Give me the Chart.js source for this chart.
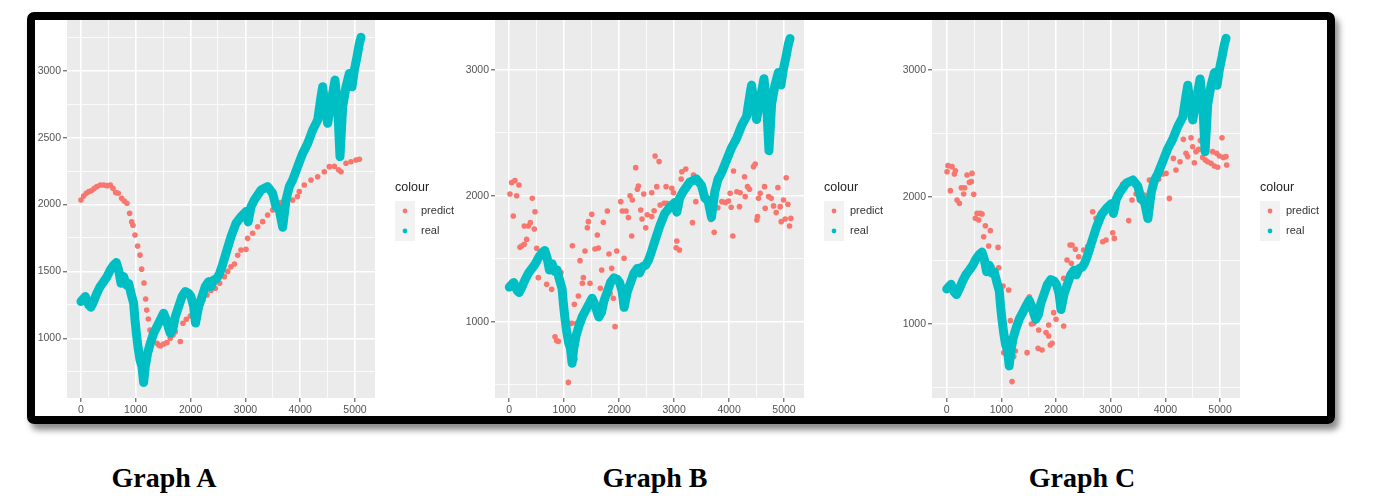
<!DOCTYPE html>
<html>
<head>
<meta charset="utf-8">
<script src="https://cdn.jsdelivr.net/npm/chart.js@4.4.0/dist/chart.umd.min.js"></script>
<style>
  body { margin: 0; background: #fff; width: 1375px; height: 499px; overflow: hidden; position: relative; }
  canvas { position: absolute; top: 10px; }
  #frame { position: absolute; left: 27px; top: 12px; width: 1292px; height: 396px; border: 8px solid #000;
           border-radius: 7px; box-shadow: 4px 6px 6px rgba(0,0,0,0.45); pointer-events: none; }
  .cap { position: absolute; top: 462px; width: 200px; line-height: 28px; text-align: center;
         font: bold 28px "Liberation Serif", "Times New Roman", serif; color: #000; }
</style>
</head>
<body>
<canvas id="gA" width="424" height="410" style="left:36px"></canvas>
<canvas id="gB" width="430" height="410" style="left:460px"></canvas>
<canvas id="gC" width="437" height="410" style="left:890px"></canvas>
<div id="frame"></div>
<div class="cap" style="left:64px">Graph A</div>
<div class="cap" style="left:555px">Graph B</div>
<div class="cap" style="left:982px">Graph C</div>
<script>
// real index, same in all three graphs
var realX = [0,80,140,180,230,290,350,415,475,535,596,645,687,730,779,827,870,912,961,985,
  1010,1040,1077,1113,1143,1174,1216,1265,1326,1387,1448,1508,1557,1600,1630,1679,1721,1782,1843,1904,
  1965,2007,2056,2090,2147,2208,2269,2330,2372,2421,2482,2530,2573,2646,2738,2829,2920,3011,3050,3102,
  3163,3285,3406,3497,3558,3619,3680,3741,3801,3862,3954,4045,4137,4228,4319,4380,4410,4453,4501,4562,
  4635,4684,4726,4775,4836,4897,4945,4988,5037,5080,5110];
var realY = [1275,1312,1250,1232,1275,1337,1387,1424,1461,1511,1548,1566,1511,1411,1461,1399,1411,1337,1262,1140,
  1040,937,838,790,670,789,889,963,1038,1088,1138,1187,1138,1075,1038,1075,1162,1237,1312,1349,
  1337,1312,1237,1114,1237,1312,1387,1424,1387,1436,1449,1486,1536,1636,1760,1860,1909,1947,1870,1984,
  2034,2109,2134,2084,1984,1959,1830,2034,2134,2183,2283,2382,2457,2557,2631,2806,2880,2731,2607,2756,
  2930,2731,2358,2731,2880,2980,2880,3005,3105,3204,3250];

var predictA = [[0,2034],[49,2064],[97,2084],[146,2096],[195,2104],[243,2121],[292,2134],[353,2146],[414,2146],[474,2141],
  [535,2146],[584,2121],[633,2089],[681,2084],[742,2046],[791,2026],[839,2009],[888,1934],[925,1870],[949,1845],
  [985,1772],[1034,1690],[1077,1622],[1107,1517],[1150,1413],[1180,1293],[1199,1211],[1229,1144],[1259,1062],[1290,1038],
  [1387,963],[1420,950],[1448,943],[1508,958],[1569,968],[1630,1000],[1679,1025],[1720,1050],[1813,976],[1861,1113],
  [1922,1142],[1995,1167],[2068,1187],[2147,1237],[2226,1287],[2299,1324],[2372,1357],[2451,1374],[2530,1411],[2616,1461],
  [2677,1500],[2737,1535],[2800,1555],[2860,1620],[2920,1660],[3011,1665],[3041,1747],[3132,1785],[3224,1834],[3315,1872],
  [3406,1922],[3497,1959],[3558,2009],[3650,2015],[3741,2025],[3862,2034],[3950,2060],[3984,2096],[4075,2146],[4197,2183],
  [4319,2208],[4440,2245],[4532,2283],[4623,2285],[4700,2260],[4745,2245],[4836,2308],[4927,2320],[5019,2333],[5080,2338]];

var predictB = [[12,2015],[43,2105],[103,2121],[176,2086],[134,2001],[73,1840],[419,1980],[468,1874],[273,1760],[346,1760],
  [383,1787],[455,1737],[316,1654],[225,1602],[194,1591],[273,1615],[498,1583],[528,1350],[680,1297],[771,1257],
  [941,1390],[832,881],[862,849],[893,844],[1135,987],[1226,987],[1196,701],[1075,518],[1148,1604],[1287,1485],
  [1378,1562],[1330,1305],[1469,1305],[1348,1350],[1257,1204],[1184,1138],[1500,1853],[1439,1795],[1421,1747],[1560,1578],
  [1621,1586],[1603,1689],[1712,1790],[1785,1880],[1815,1538],[1682,1411],[1864,1424],[1657,1265],[1955,1562],[1925,961],
  [1894,1186],[1834,1225],[2089,1504],[2028,1954],[2058,1880],[2125,1880],[2168,1827],[2198,2001],[2240,1967],[2301,2224],
  [2350,2078],[2332,2052],[2447,2015],[2392,1888],[2416,1816],[2483,1747],[2228,1681],[2510,1850],
  [2654,2317],[2727,2272],[2593,2025],[2684,2073],[2593,1835],[2636,1882],[2745,1927],[2818,1941],[2867,1941],[2958,2060],
  [2988,2025],[2854,2073],[3140,2192],[3213,2213],[3128,2134],[3352,2166],[3170,2020],[3395,1954],[3334,1787],[3049,1641],
  [3037,1588],[3097,1570],[3231,2073],[3668,1813],[3729,1710],[3796,1906],[3869,1954],[3930,1948],[3990,1959],[4020,2020],
  [4081,2197],[4069,1681],[4039,1909],[4142,2033],[4202,2025],[4190,1914],[4282,2152],[4336,2073],[4372,2052],[4294,1994],
  [4445,2232],[4476,2253],[4518,1835],[4506,1808],[4567,2020],[4536,1980],[4646,2073],[4658,1901],[4719,1994],[4767,1980],
  [4810,1920],[4858,1867],[4889,2065],[4931,1914],[4949,1795],[4992,1967],[5022,1816],[5040,2144],[5071,1933],[5101,1760],
  [5125,1821]];

var predictC = [[24,2247],[98,2239],[6,2199],[140,2181],[159,2207],[67,2050],[189,1976],[232,1950],[268,2073],[329,2073],
  [311,2024],[372,2173],[463,2186],[415,2115],[451,2121],[494,2021],[555,1871],[616,1871],[646,1866],[524,1832],
  [585,1819],[707,1774],[799,1735],[677,1687],[768,1614],[939,1603],[829,1451],[951,1443],[1030,1299],[1134,1267],
  [1165,1026],[1256,787],[1226,743],[1043,774],[1195,546],[1470,774],[1512,1215],[1549,1000],[1591,1005],[1671,808],
  [1744,795],[1683,953],[1817,932],[1866,905],[1896,834],[1927,848],[1866,992],[1957,1089],[2000,1037],[2140,984],
  [2140,1359],[2293,1622],[2354,1588],[2201,1504],[2280,1478],[2415,1530],[2506,1583],[2256,1622],
  [2578,1609],[2639,1583],[2670,1884],[2731,1832],[2853,1648],[2914,1661],[3066,1674],[3036,1719],[3109,2024],[3219,2100],
  [3329,1814],[3390,1976],[3463,2024],[3524,1976],[3615,2016],[3707,2134],[3737,1919],[3877,2139],[3951,2181],[4073,1989],
  [4146,2304],[4194,2213],[4268,2278],[4329,2454],[4377,2344],[4408,2318],[4469,2467],[4499,2396],[4530,2270],[4560,2357],
  [4609,2375],[4640,2444],[4682,2312],[4713,2357],[4731,2291],[4774,2278],[4835,2265],[4896,2244],[4957,2234],[4865,2357],
  [4939,2344],[4987,2323],[5036,2467],[5060,2312],[5109,2318],[5121,2252],[4012,2186]];

var xGrid = [0,500,1000,1500,2000,2500,3000,3500,4000,4500,5000];
var xLabels = [0,1000,2000,3000,4000,5000];
var yGridA = [750,1000,1250,1500,1750,2000,2250,2500,2750,3000,3250];
var yLabelsA = [1000,1500,2000,2500,3000];
var yGridBC = [500,1000,1500,2000,2500,3000];
var yLabelsBC = [1000,2000,3000];

var FONT = '"Liberation Sans", Arial, sans-serif';
var PRED_COL = '#F8766D', REAL_COL = '#00BFC4';

function pts(xs, ys) {
  return xs.map(function (x, i) { return { x: x, y: ys[i] }; });
}
function pairs(list) {
  return list.map(function (p) { return { x: p[0], y: p[1] }; });
}

// grey panel like ggplot
var panelBg = {
  id: 'panelBg',
  beforeDraw: function (chart) {
    var a = chart.chartArea, ctx = chart.ctx;
    ctx.save();
    ctx.fillStyle = '#EBEBEB';
    ctx.fillRect(a.left, a.top, a.right - a.left, a.bottom - a.top);
    ctx.restore();
  }
};

// ggplot style legend to the right of the panel
var ggLegend = {
  id: 'ggLegend',
  afterDraw: function (chart) {
    var a = chart.chartArea, ctx = chart.ctx;
    var x0 = a.right + 20;
    var mid = (a.top + a.bottom) / 2;
    ctx.save();
    ctx.textBaseline = 'middle';
    ctx.fillStyle = '#222';
    ctx.font = '12.5px ' + FONT;
    ctx.fillText('colour', x0, mid - 21);
    chart.data.datasets.forEach(function (ds, i) {
      var cy = mid + 2 + i * 20;
      ctx.fillStyle = '#F2F2F2';
      ctx.fillRect(x0, cy - 10, 20, 20);
      ctx.fillStyle = ds.backgroundColor;
      ctx.beginPath();
      ctx.arc(x0 + 10, cy, 2.4, 0, Math.PI * 2);
      ctx.fill();
      ctx.fillStyle = '#333';
      ctx.font = '11px ' + FONT;
      ctx.fillText(ds.label, x0 + 26, cy);
    });
    ctx.restore();
  }
};

function axis(grid, labels, min, max, fit) {
  return {
    type: 'linear', min: min, max: max,
    afterBuildTicks: function (s) { s.ticks = grid.map(function (v) { return { value: v }; }); },
    afterFit: fit,
    ticks: {
      autoSkip: false, maxRotation: 0, padding: 2, color: '#555',
      font: { size: 10.5, family: FONT },
      callback: function (v) { return labels.indexOf(v) >= 0 ? String(v) : ''; }
    },
    grid: {
      color: '#fff',
      lineWidth: function (c) { return c.tick && labels.indexOf(c.tick.value) >= 0 ? 1.6 : 0.8; },
      tickColor: function (c) { return c.tick && labels.indexOf(c.tick.value) >= 0 ? '#444' : 'rgba(0,0,0,0)'; },
      tickLength: 4, tickWidth: 1
    },
    border: { display: false }
  };
}

function drawPanel(id, predict, yGrid, yLabels, yMin, yMax, xMin, xMax, yWidth, padRight) {
  new Chart(document.getElementById(id), {
    type: 'scatter',
    data: {
      datasets: [
        { label: 'predict', data: pairs(predict), backgroundColor: PRED_COL, pointRadius: 2.8,
          pointBorderWidth: 0, order: 1 },
        { label: 'real', data: pts(realX, realY), backgroundColor: REAL_COL, borderColor: REAL_COL,
          showLine: true, borderWidth: 9, borderJoinStyle: 'round', borderCapStyle: 'round',
          pointRadius: 3, pointBorderWidth: 0, order: 0 }
      ]
    },
    options: {
      responsive: false, animation: false, events: [],
      layout: { padding: { top: 10, right: padRight, left: 0, bottom: 0 }, autoPadding: false },
      plugins: { legend: { display: false }, tooltip: { enabled: false } },
      scales: {
        x: axis(xGrid, xLabels, xMin, xMax, function (s) { s.height = 22; }),
        y: axis(yGrid, yLabels, yMin, yMax, function (s) { s.width = yWidth; })
      }
    },
    plugins: [panelBg, ggLegend]
  });
}

drawPanel('gA', predictA, yGridA, yLabelsA, 554, 3379, -255, 5365, 31, 85);
drawPanel('gB', predictB, yGridBC, yLabelsBC, 394, 3397, -260, 5364, 35, 86);
drawPanel('gC', predictC, yGridBC, yLabelsBC, 417, 3394, -269, 5365, 42, 87);
</script>
</body>
</html>
